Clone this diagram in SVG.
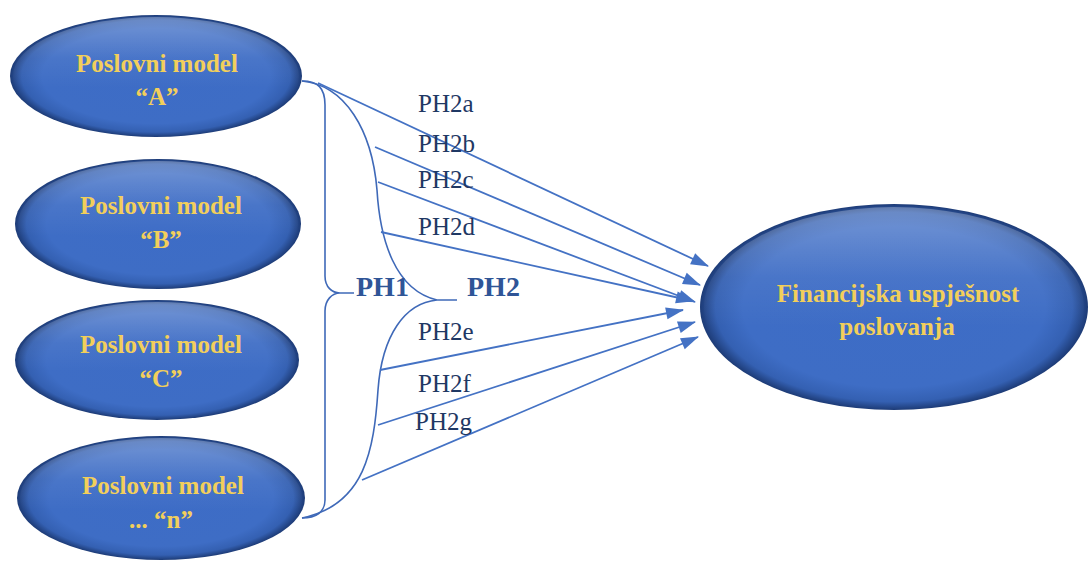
<svg xmlns="http://www.w3.org/2000/svg" width="1089" height="563" viewBox="0 0 1089 563">
<defs>
<radialGradient id="gBody" cx="50%" cy="50%" r="50%">
<stop offset="0" stop-color="#3D6CC6"/>
<stop offset="0.78" stop-color="#3E6DC5"/>
<stop offset="0.92" stop-color="#3460B2"/>
<stop offset="1" stop-color="#1D3B76"/>
</radialGradient>
<linearGradient id="gShine" x1="0" y1="0" x2="0" y2="1">
<stop offset="0" stop-color="#FFFFFF" stop-opacity="0.28"/>
<stop offset="0.35" stop-color="#FFFFFF" stop-opacity="0.06"/>
<stop offset="0.6" stop-color="#FFFFFF" stop-opacity="0"/>
</linearGradient>
<marker id="arr" viewBox="0 0 18 12" refX="17" refY="6" markerWidth="18" markerHeight="12" markerUnits="userSpaceOnUse" orient="auto" overflow="visible">
<path d="M0,0 L18,6 L0,12 Z" fill="#4472C4"/>
</marker>
</defs>
<style>
.body{fill:url(#gBody);}
.shine{fill:url(#gShine);}
.lbl{font-family:"Liberation Serif","Times New Roman",serif;font-weight:bold;font-size:25px;fill:#F2CF5B;text-anchor:middle;}
.ph{font-family:"Liberation Serif","Times New Roman",serif;font-weight:bold;font-size:28px;fill:#2F5597;}
.sub{font-family:"Liberation Serif","Times New Roman",serif;font-size:25px;fill:#1F3864;}
.brace{fill:none;stroke:#3F69B8;stroke-width:1.6;}
.arrow{fill:none;stroke:#4472C4;stroke-width:1.8;}
</style>
<rect width="1089" height="563" fill="#FFFFFF"/>

<g id="node-A">
<ellipse class="body" cx="156" cy="76" rx="146" ry="61"/>
<ellipse class="shine" cx="156" cy="76" rx="143" ry="59"/>
<text class="lbl" x="157" y="72">Poslovni model</text>
<text class="lbl" x="157" y="105">“A”</text>
</g>
<g id="node-B">
<ellipse class="body" cx="158" cy="224" rx="143" ry="65"/>
<ellipse class="shine" cx="158" cy="224" rx="140" ry="63"/>
<text class="lbl" x="161" y="214">Poslovni model</text>
<text class="lbl" x="161" y="248">“B”</text>
</g>
<g id="node-C">
<ellipse class="body" cx="157" cy="360" rx="142" ry="60"/>
<ellipse class="shine" cx="157" cy="360" rx="139" ry="58"/>
<text class="lbl" x="161" y="353">Poslovni model</text>
<text class="lbl" x="161" y="387">“C”</text>
</g>
<g id="node-n">
<ellipse class="body" cx="161" cy="498" rx="144" ry="62"/>
<ellipse class="shine" cx="161" cy="498" rx="141" ry="60"/>
<text class="lbl" x="163" y="494">Poslovni model</text>
<text class="lbl" x="161" y="528">... “n”</text>
</g>
<g id="node-F">
<ellipse class="body" cx="894" cy="307" rx="194" ry="103"/>
<ellipse class="shine" cx="894" cy="307" rx="190" ry="100"/>
<text class="lbl" x="898" y="302">Financijska uspješnost</text>
<text class="lbl" x="897" y="335">poslovanja</text>
</g>

<g id="connectors">
<path class="brace" d="M302,81 C318,81 325,88 325,105 L325,276 C325,287 332,293 340,293 L354,293 M340,293 C332,293 325,300 325,311 L325,500 C325,512 316,518 302,518"/>
<path class="brace" d="M302,81 C345,85 372,130 377,190 C380,240 395,290 437,300 L457,300 M437,300 C405,303 382,335 378,390 C374,450 365,505 302,518"/>
<line class="arrow" x1="318" y1="83" x2="708" y2="266" marker-end="url(#arr)"/>
<line class="arrow" x1="375" y1="147" x2="700" y2="285" marker-end="url(#arr)"/>
<line class="arrow" x1="378" y1="182" x2="695" y2="302" marker-end="url(#arr)"/>
<line class="arrow" x1="381" y1="232" x2="693" y2="301" marker-end="url(#arr)"/>
<line class="arrow" x1="380" y1="370" x2="683" y2="310" marker-end="url(#arr)"/>
<line class="arrow" x1="378" y1="425" x2="695" y2="322" marker-end="url(#arr)"/>
<line class="arrow" x1="362" y1="480" x2="698" y2="337" marker-end="url(#arr)"/>
</g>

<g id="labels">
<text class="ph" x="356" y="296">PH1</text>
<text class="ph" x="467" y="296">PH2</text>
<text class="sub" x="418" y="112">PH2a</text>
<text class="sub" x="418" y="152">PH2b</text>
<text class="sub" x="418" y="188">PH2c</text>
<text class="sub" x="418" y="235">PH2d</text>
<text class="sub" x="418" y="340">PH2e</text>
<text class="sub" x="418" y="392">PH2f</text>
<text class="sub" x="415" y="430">PH2g</text>
</g>
</svg>
